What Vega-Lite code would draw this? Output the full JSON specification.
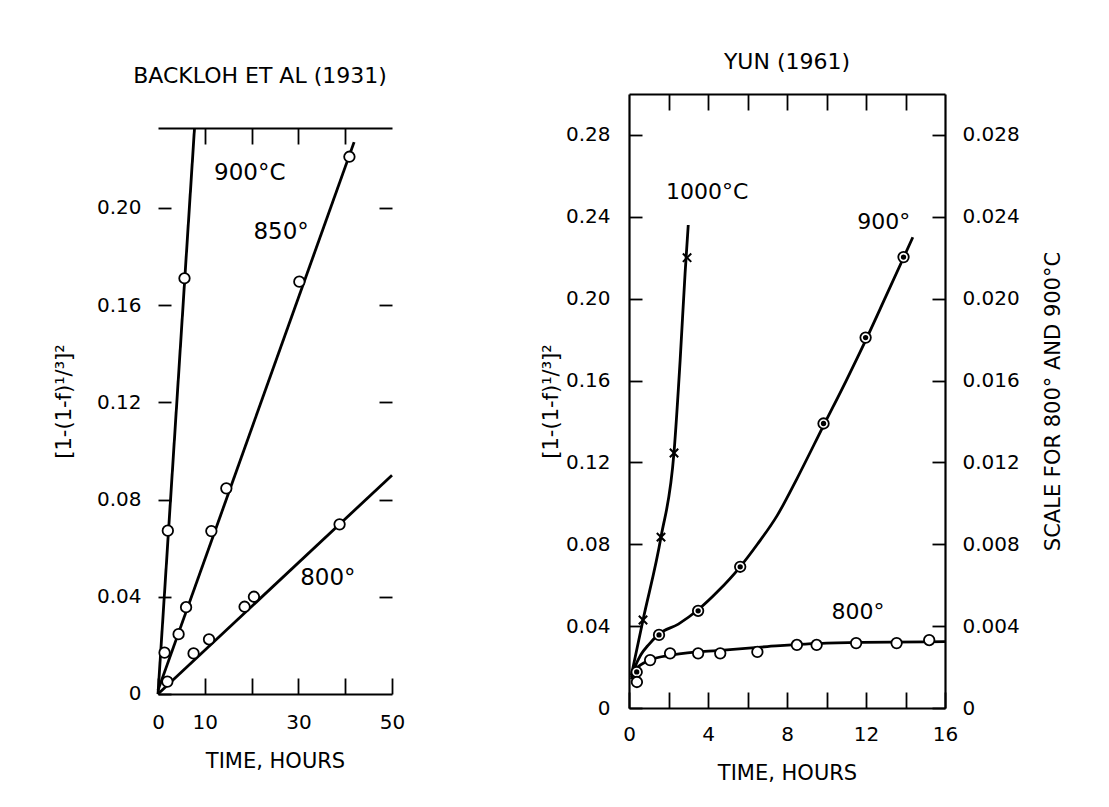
{
  "$schema": "https://vega.github.io/schema/vega-lite/v6.json",
  "background": "white",
  "padding": {"left": 53, "top": 51, "right": 5, "bottom": 5},
  "config": {
    "font": "DejaVu Sans",
    "view": {"stroke": null},
    "axis": {"labelFontSize": 20, "labelColor": "black", "titleColor": "black", "domainColor": "black", "tickColor": "black", "titleFontSize": 21, "titleFontWeight": "normal", "grid": false, "domainWidth": 2.2, "tickWidth": 1.8, "labelFlush": false, "labelOverlap": false},
    "title": {"fontSize": 22, "fontWeight": "normal", "color": "black"},
    "text": {"font": "DejaVu Sans"}
  },
  "datasets": {
    "bl_pts": [
      {"s": "900", "t": 2.1, "v": 0.0672},
      {"s": "900", "t": 5.66, "v": 0.171},
      {"s": "850", "t": 1.4, "v": 0.017},
      {"s": "850", "t": 4.4, "v": 0.0246},
      {"s": "850", "t": 6.0, "v": 0.0357},
      {"s": "850", "t": 11.4, "v": 0.067},
      {"s": "850", "t": 14.6, "v": 0.0846},
      {"s": "850", "t": 30.2, "v": 0.1696},
      {"s": "850", "t": 40.9, "v": 0.221},
      {"s": "800", "t": 2.0, "v": 0.0051},
      {"s": "800", "t": 7.6, "v": 0.0167},
      {"s": "800", "t": 10.9, "v": 0.0225},
      {"s": "800", "t": 18.5, "v": 0.0359},
      {"s": "800", "t": 20.5, "v": 0.040},
      {"s": "800", "t": 38.8, "v": 0.0698}
    ],
    "bl_lines": [
      {"s": "900", "t": 0, "v": 0},
      {"s": "900", "t": 7.8, "v": 0.2328},
      {"s": "850", "t": 0, "v": 0.0015},
      {"s": "850", "t": 41.9, "v": 0.227},
      {"s": "800", "t": 0, "v": 0},
      {"s": "800", "t": 50, "v": 0.090}
    ],
    "bl_labels": [
      {"t": 19.6, "v": 0.2142, "label": "900°C"},
      {"t": 26.3, "v": 0.190, "label": "850°"},
      {"t": 36.3, "v": 0.0476, "label": "800°"}
    ],
    "bl_ticks": [
      {"t": 10}, {"t": 20}, {"t": 30}, {"t": 40}
    ],
    "y1000_pts": [
      {"t": 0.71, "v": 0.043},
      {"t": 1.62, "v": 0.0835},
      {"t": 2.28, "v": 0.1246},
      {"t": 2.94, "v": 0.220}
    ],
    "y1000_line": [
      {"t": 0.12, "v": 0.016},
      {"t": 0.71, "v": 0.043},
      {"t": 1.62, "v": 0.0835},
      {"t": 2.28, "v": 0.125},
      {"t": 2.59, "v": 0.17},
      {"t": 2.84, "v": 0.2125},
      {"t": 3.0, "v": 0.236}
    ],
    "y_pts": [
      {"s": "900", "t": 0.39, "v": 0.00176},
      {"s": "900", "t": 1.52, "v": 0.00357},
      {"s": "900", "t": 3.5, "v": 0.00475},
      {"s": "900", "t": 5.63, "v": 0.0069},
      {"s": "900", "t": 9.85, "v": 0.0139},
      {"s": "900", "t": 11.98, "v": 0.0181},
      {"s": "900", "t": 13.9, "v": 0.02203},
      {"s": "800", "t": 0.4, "v": 0.00127},
      {"s": "800", "t": 1.07, "v": 0.00234},
      {"s": "800", "t": 2.08, "v": 0.00267},
      {"s": "800", "t": 3.5, "v": 0.00267},
      {"s": "800", "t": 4.62, "v": 0.00267},
      {"s": "800", "t": 6.5, "v": 0.00274},
      {"s": "800", "t": 8.5, "v": 0.00308},
      {"s": "800", "t": 9.5, "v": 0.00308},
      {"s": "800", "t": 11.5, "v": 0.00317},
      {"s": "800", "t": 13.55, "v": 0.00317},
      {"s": "800", "t": 15.2, "v": 0.00332}
    ],
    "y_lines": [
      {"s": "900", "t": 0.12, "v": 0.0015},
      {"s": "900", "t": 0.3, "v": 0.0020},
      {"s": "900", "t": 0.6, "v": 0.0026},
      {"s": "900", "t": 1.0, "v": 0.0031},
      {"s": "900", "t": 1.5, "v": 0.0036},
      {"s": "900", "t": 2.5, "v": 0.0041},
      {"s": "900", "t": 3.5, "v": 0.0048},
      {"s": "900", "t": 4.5, "v": 0.0057},
      {"s": "900", "t": 5.63, "v": 0.0069},
      {"s": "900", "t": 6.5, "v": 0.0080},
      {"s": "900", "t": 7.5, "v": 0.0094},
      {"s": "900", "t": 8.5, "v": 0.0112},
      {"s": "900", "t": 9.85, "v": 0.0138},
      {"s": "900", "t": 11.0, "v": 0.0160},
      {"s": "900", "t": 12.0, "v": 0.0180},
      {"s": "900", "t": 13.0, "v": 0.0201},
      {"s": "900", "t": 13.9, "v": 0.0220},
      {"s": "900", "t": 14.37, "v": 0.0230},
      {"s": "800", "t": 0.12, "v": 0.0014},
      {"s": "800", "t": 0.35, "v": 0.0019},
      {"s": "800", "t": 1.07, "v": 0.00234},
      {"s": "800", "t": 2.2, "v": 0.00259},
      {"s": "800", "t": 4.8, "v": 0.00283},
      {"s": "800", "t": 7.0, "v": 0.00300},
      {"s": "800", "t": 10.0, "v": 0.00317},
      {"s": "800", "t": 16.0, "v": 0.00324}
    ],
    "y1000_label": [
      {"t": 3.96, "v": 0.252, "label": "1000°C"}
    ],
    "y_labels": [
      {"t": 12.9, "v": 0.02374, "label": "900°"},
      {"t": 11.6, "v": 0.00469, "label": "800°"}
    ]
  },
  "spacing": 237,
  "bounds": "flush",
  "hconcat": [
    {
      "width": 234,
      "height": 614,
      "title": {"text": "BACKLOH ET AL (1931)", "offset": 6, "dx": -15},
      "layer": [
        {
          "encoding": {
            "x": {"field": "t", "type": "quantitative", "scale": {"domain": [0, 50], "nice": false, "zero": false},
              "axis": {"orient": "bottom", "values": [0, 10, 20, 30, 40, 50], "labelExpr": "datum.value==20||datum.value==40?'':datum.label", "tickSize": -16, "labelPadding": 34, "offset": -14, "title": "TIME, HOURS", "titlePadding": 18}},
            "y": {"field": "v", "type": "quantitative", "scale": {"domain": [-0.00576, 0.2468], "nice": false, "zero": false},
              "axis": {"orient": "left", "values": [0, 0.04, 0.08, 0.12, 0.16, 0.2], "labelExpr": "datum.value==0?'0':format(datum.value,'.2f')", "tickSize": -13, "labelPadding": 30, "domain": false, "title": "[1-(1-f)¹/³]²", "titlePadding": 22}}
          },
          "layer": [
            {
              "data": {"values": [{}]},
              "mark": {"type": "rule", "color": "black", "strokeWidth": 2.4},
              "encoding": {
                "x": {"datum": 0, "type": "quantitative"},
                "y": {"datum": 0, "type": "quantitative"},
                "y2": {"datum": 0.2328}
              }
            },
            {
              "data": {"name": "bl_ticks"},
              "mark": {"type": "rule", "color": "black", "strokeWidth": 1.8, "y2Offset": -16},
              "encoding": {
                "y": {"datum": 0, "type": "quantitative"},
                "y2": {"datum": 0}
              }
            },
            {
              "data": {"name": "bl_ticks"},
              "mark": {"type": "rule", "color": "black", "strokeWidth": 1.8, "y2Offset": 16},
              "encoding": {
                "y": {"datum": 0.2328, "type": "quantitative"},
                "y2": {"datum": 0.2328}
              }
            },
            {
              "data": {"name": "bl_lines"},
              "mark": {"type": "line", "color": "black", "strokeWidth": 2.8},
              "encoding": {"detail": {"field": "s"}}
            },
            {
              "data": {"name": "bl_labels"},
              "mark": {"type": "text", "fontSize": 23, "color": "black", "align": "center", "baseline": "middle"},
              "encoding": {"text": {"field": "label"}}
            }
          ]
        },
        {
          "data": {"name": "bl_pts"},
          "mark": {"type": "point", "shape": "circle", "filled": false, "fill": "white", "fillOpacity": 1, "color": "black", "strokeWidth": 1.8, "size": 110, "opacity": 1},
          "encoding": {
            "x": {"field": "t", "type": "quantitative", "scale": {"domain": [0, 50], "nice": false, "zero": false},
              "axis": {"orient": "top", "values": [10, 20, 30, 40], "labels": false, "tickSize": -16, "offset": -34, "title": null}},
            "y": {"field": "v", "type": "quantitative", "scale": {"domain": [-0.00576, 0.2468], "nice": false, "zero": false},
              "axis": {"orient": "right", "values": [0.04, 0.08, 0.12, 0.16, 0.2], "labels": false, "domain": false, "tickSize": -13, "title": null}}
          }
        }
      ],
      "resolve": {"scale": {"x": "independent", "y": "independent"}, "axis": {"x": "independent", "y": "independent"}}
    },
    {
      "width": 316,
      "height": 614,
      "title": {"text": "YUN (1961)", "offset": 19},
      "layer": [
        {
          "encoding": {
            "x": {"field": "t", "type": "quantitative", "scale": {"domain": [0, 16], "nice": false, "zero": false},
              "axis": {"orient": "bottom", "values": [0, 2, 4, 6, 8, 10, 12, 14, 16], "labelExpr": "datum.value%4==0?datum.label:''", "tickSize": -16, "labelPadding": 32, "title": "TIME, HOURS", "titlePadding": 18}},
            "y": {"field": "v", "type": "quantitative", "scale": {"domain": [0, 0.30], "nice": false, "zero": false},
              "axis": {"orient": "left", "values": [0, 0.04, 0.08, 0.12, 0.16, 0.2, 0.24, 0.28], "labelExpr": "datum.value==0?'0':format(datum.value,'.2f')", "tickSize": -13, "labelPadding": 32, "title": "[1-(1-f)¹/³]²", "titlePadding": 4}}
          },
          "layer": [
            {
              "data": {"name": "y1000_line"},
              "mark": {"type": "line", "color": "black", "strokeWidth": 2.8, "interpolate": "monotone"}
            },
            {
              "data": {"name": "y1000_pts"},
              "mark": {"type": "point", "shape": "M-1,-1L1,1M-1,1L1,-1", "filled": false, "color": "black", "strokeWidth": 2, "size": 70, "opacity": 1}
            },
            {
              "data": {"name": "y1000_label"},
              "mark": {"type": "text", "fontSize": 22, "color": "black", "align": "center", "baseline": "middle"},
              "encoding": {"text": {"field": "label"}}
            }
          ]
        },
        {
          "encoding": {
            "x": {"field": "t", "type": "quantitative", "scale": {"domain": [0, 16], "nice": false, "zero": false},
              "axis": {"orient": "top", "values": [2, 4, 6, 8, 10, 12, 14], "labels": false, "tickSize": -16, "title": null}},
            "y": {"field": "v", "type": "quantitative", "scale": {"domain": [0, 0.030], "nice": false, "zero": false},
              "axis": {"orient": "right", "values": [0, 0.004, 0.008, 0.012, 0.016, 0.02, 0.024, 0.028], "labelExpr": "datum.value==0?'0':format(datum.value,'.3f')", "tickSize": -13, "labelPadding": 30, "title": "SCALE FOR 800° AND 900°C", "titleAngle": 270, "titlePadding": 44}}
          },
          "layer": [
            {
              "data": {"name": "y_lines"},
              "mark": {"type": "line", "color": "black", "strokeWidth": 2.8, "interpolate": "monotone"},
              "encoding": {"detail": {"field": "s"}}
            },
            {
              "data": {"name": "y_pts"},
              "mark": {"type": "point", "shape": "circle", "filled": false, "fill": "white", "fillOpacity": 1, "color": "black", "strokeWidth": 1.8, "size": 110, "opacity": 1}
            },
            {
              "data": {"name": "y_pts"},
              "transform": [{"filter": "datum.s=='900'"}],
              "mark": {"type": "point", "shape": "circle", "filled": true, "color": "black", "size": 28, "opacity": 1}
            },
            {
              "data": {"name": "y_labels"},
              "mark": {"type": "text", "fontSize": 22, "color": "black", "align": "center", "baseline": "middle"},
              "encoding": {"text": {"field": "label"}}
            }
          ]
        }
      ],
      "resolve": {"scale": {"x": "independent", "y": "independent"}, "axis": {"x": "independent", "y": "independent"}}
    }
  ]
}
